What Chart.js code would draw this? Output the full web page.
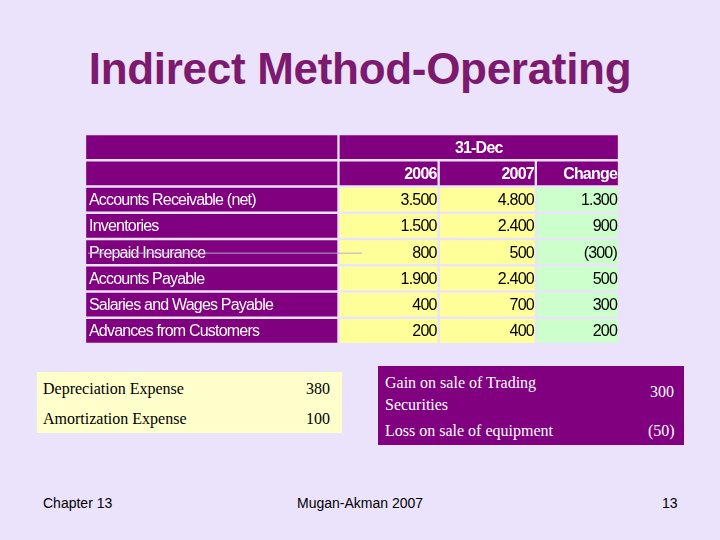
<!DOCTYPE html>
<html><head><meta charset="utf-8">
<script src="https://cdn.jsdelivr.net/npm/chart.js@4"></script>
<style>
body{margin:0;width:720px;height:540px;background:#ebe3fb;position:relative;overflow:hidden;font-family:"Liberation Sans",Arial,sans-serif}
#title{position:absolute;left:0;width:720px;top:44px;text-align:center;font-size:44px;font-weight:bold;color:#7b1a6e;letter-spacing:-0.3px}
#wrap{position:absolute;left:85px;top:134px;width:534px;height:210px}
.box{position:absolute;font-family:"Liberation Serif","Times New Roman",serif;font-size:16px}
#lb{left:37px;top:372px;width:305px;height:61px;background:#ffffcc;color:#000}
#rb{left:378px;top:366px;width:306px;height:79px;background:#800080;color:#fff}
.t{position:absolute;white-space:nowrap}
.f{position:absolute;top:495px;font-size:14px;color:#000}
</style></head><body>
<div id="title">Indirect Method-Operating</div>
<div id="wrap"><canvas id="c"></canvas></div>
<div class="box" id="lb"></div>
<div class="box" id="rb"></div>
<div class="f" style="left:43px">Chapter 13</div>
<div class="f" style="left:297px">Mugan-Akman 2007</div>
<div class="f" style="left:662px">13</div>
<script>
const rowLabels=["Accounts Receivable (net)","Inventories","Prepaid Insurance","Accounts Payable","Salaries and Wages Payable","Advances from Customers"];
const v2006=["3.500","1.500","800","1.900","400","200"];
const v2007=["4.800","2.400","500","2.400","700","400"];
const change=["1.300","900","(300)","500","300","200"];
const headerTop="31-Dec";
const headerCols=["2006","2007","Change"];
const colEdges=[0,253,353,450,533];
const leftItems=[["Depreciation Expense","380"],["Amortization Expense","100"]];
const rightItems=[["Gain on sale of  Trading\nSecurities","300"],["Loss on sale of equipment","(50)"]];

const rows=["h1","h2",...rowLabels];
const PUR="#800080",YEL="#ffff99",GRN="#ccffcc",GRID="#ebe3fb";
function col(i,fillRows,color,texts,opts){
  return {data:rows.map((r,k)=>fillRows(k)?[colEdges[i],colEdges[i+1]]:null),
    backgroundColor:rows.map((r,k)=>typeof color==='function'?color(k):color),
    texts:texts,align:opts.align,borderColor:GRID,borderWidth:1.5,borderSkipped:false};
}
const ds=[
  col(0,k=>true,PUR,rows.map((r,k)=>k<2?"":rowLabels[k-2]),{align:'left'}),
  col(1,k=>k>0,k=>k<2?PUR:YEL,rows.map((r,k)=>k==1?headerCols[0]:k<2?"":v2006[k-2]),{align:'right'}),
  col(2,k=>k>0,k=>k<2?PUR:YEL,rows.map((r,k)=>k==1?headerCols[1]:k<2?"":v2007[k-2]),{align:'right'}),
  col(3,k=>k>0,k=>k<2?PUR:GRN,rows.map((r,k)=>k==1?headerCols[2]:k<2?"":change[k-2]),{align:'right'}),
  {data:rows.map((r,k)=>k==0?[colEdges[1],colEdges[4]]:null),backgroundColor:PUR,borderColor:GRID,borderWidth:1.5,borderSkipped:false,texts:[headerTop],align:'center'}
];
const textPlugin={id:'txt',afterDatasetsDraw(ch){
  const ctx=ch.ctx;ctx.save();
  ch.data.datasets.forEach((d,di)=>{
    ch.getDatasetMeta(di).data.forEach((el,k)=>{
      const t=d.texts[k];if(!t||!d.data[k])return;
      const hdr=k<2;
      ctx.font=(hdr?'bold ':'')+'16px "Liberation Sans", Arial';
      ctx.letterSpacing='-0.8px';
      ctx.fillStyle=(hdr||d.align==='left')?'#fff':'#000';
      ctx.textBaseline='middle';
      const x0=Math.min(el.x,el.base),x1=Math.max(el.x,el.base);
      let x;
      if(d.align==='left'){ctx.textAlign='left';x=x0+4;}
      else if(d.align==='center'){ctx.textAlign='center';x=(x0+x1)/2;}
      else{ctx.textAlign='right';x=x1-2;}
      ctx.fillText(t,x,el.y+1);
      if(rows[k]==="Prepaid Insurance"&&d.align==='left'){
        ctx.strokeStyle='#b8a8c8';ctx.lineWidth=1;ctx.beginPath();ctx.moveTo(x0+3,el.y+1);ctx.lineTo(x0+277,el.y+1);ctx.stroke();
      }
    });
  });
  ctx.restore();
}};
new Chart(document.getElementById('c'),{type:'bar',
  data:{labels:rows,datasets:ds},
  options:{indexAxis:'y',responsive:true,maintainAspectRatio:false,animation:false,
    layout:{padding:0},
    datasets:{bar:{barPercentage:1,categoryPercentage:1,grouped:false}},
    plugins:{legend:{display:false},tooltip:{enabled:false}},
    scales:{x:{type:'linear',min:0,max:colEdges[4],display:false},y:{display:false}}},
  plugins:[textPlugin]});

const lb=document.getElementById('lb');
leftItems.forEach((it,i)=>{
  lb.insertAdjacentHTML('beforeend',`<div class="t" style="left:6px;top:${8+i*30}px">${it[0]}</div><div class="t" style="left:269px;top:${8+i*30}px">${it[1]}</div>`);
});
const rb=document.getElementById('rb');
rb.insertAdjacentHTML('beforeend',`<div class="t" style="left:7px;top:6px;line-height:22px">${rightItems[0][0].replace('\n','<br>')}</div><div class="t" style="left:272px;top:17px">${rightItems[0][1]}</div>`);
rb.insertAdjacentHTML('beforeend',`<div class="t" style="left:7px;top:56px">${rightItems[1][0]}</div><div class="t" style="left:270px;top:56px">${rightItems[1][1]}</div>`);
</script></body></html>
